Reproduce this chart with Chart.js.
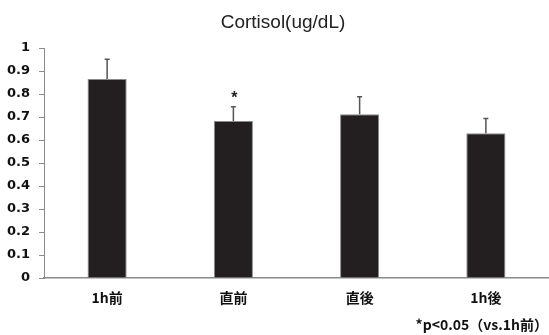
<!DOCTYPE html>
<html>
<head>
<meta charset="utf-8">
<script src="https://cdn.jsdelivr.net/npm/chart.js@4"></script>
<style>
  html, body { margin: 0; padding: 0; background: #fff; }
  #wrap { width: 549px; height: 335px; }
</style>
</head>
<body>
<div id="wrap"><canvas id="c" width="549" height="335"></canvas></div>
<script>
// Cortisol levels at each sampling time
const categories = ['1h前', '直前', '直後', '1h後'];
const means = [0.865, 0.683, 0.712, 0.629];
const errors = [0.086, 0.062, 0.076, 0.064];
const significant = [false, true, false, false];
const yTicks = [0, 0.1, 0.2, 0.3, 0.4, 0.5, 0.6, 0.7, 0.8, 0.9, 1];
const titleText = 'Cortisol(ug/dL)';
const footnoteText = '*p<0.05（vs.1h前）';

// Upward error bars, significance marks, title and footnote
const annotations = {
  id: 'annotations',
  afterDatasetsDraw(chart) {
    const { ctx } = chart;
    const meta = chart.getDatasetMeta(0);
    const y = chart.scales.y;
    ctx.save();
    meta.data.forEach((bar, i) => {
      const x = bar.x;
      const top = y.getPixelForValue(means[i]);
      const end = y.getPixelForValue(means[i] + errors[i]);
      ctx.strokeStyle = '#555';
      ctx.lineWidth = 1.5;
      ctx.beginPath();
      ctx.moveTo(x, top);
      ctx.lineTo(x, end);
      ctx.moveTo(x - 2.5, end);
      ctx.lineTo(x + 2.5, end);
      ctx.stroke();
      if (significant[i]) {
        ctx.fillStyle = '#222';
        ctx.font = 'bold 16px "Liberation Sans", Arial, sans-serif';
        ctx.textAlign = 'center';
        ctx.textBaseline = 'alphabetic';
        ctx.fillText('*', x + 1, end - 4);
      }
    });

    ctx.fillStyle = '#222';
    ctx.textAlign = 'center';
    ctx.textBaseline = 'middle';
    ctx.font = '19px "Liberation Sans", Arial, sans-serif';
    ctx.fillText(titleText, 283, 23);

    ctx.fillStyle = '#111';
    ctx.textAlign = 'right';
    ctx.font = 'bold 14px "Noto Sans CJK JP", "Liberation Sans", sans-serif';
    ctx.fillText(footnoteText, 548, 325);
    ctx.restore();
  }
};

new Chart(document.getElementById('c'), {
  type: 'bar',
  data: {
    labels: categories,
    datasets: [{
      data: means,
      backgroundColor: '#231f20',
      borderColor: '#8a8a8a',
      borderWidth: 1,
      barPercentage: 0.31,
      categoryPercentage: 1.0
    }]
  },
  options: {
    responsive: false,
    animation: false,
    layout: { padding: { top: 48, right: 0, bottom: 0, left: 0 } },
    plugins: {
      legend: { display: false },
      tooltip: { enabled: false },
      title: { display: false }
    },
    scales: {
      x: {
        afterFit(scale) { scale.height = 57; },
        grid: { display: false },
        border: { display: true, color: '#8a8a8a', width: 1.5 },
        ticks: {
          color: '#111',
          padding: 3,
          font: { family: '"Noto Sans CJK JP", sans-serif', size: 14, weight: 'bold' }
        }
      },
      y: {
        min: 0,
        max: 1,
        afterBuildTicks(scale) { scale.ticks = yTicks.map(v => ({ value: v })); },
        afterFit(scale) { scale.width = 44; },
        grid: { drawOnChartArea: false, drawTicks: true, tickLength: 5, color: '#8a8a8a' },
        border: { display: true, color: '#8a8a8a', width: 1 },
        ticks: {
          color: '#111',
          padding: 9,
          font: { family: '"DejaVu Sans", sans-serif', size: 13, weight: 'bold' },
          callback: v => String(Math.round(v * 10) / 10)
        }
      }
    }
  },
  plugins: [annotations]
});
</script>
</body>
</html>
